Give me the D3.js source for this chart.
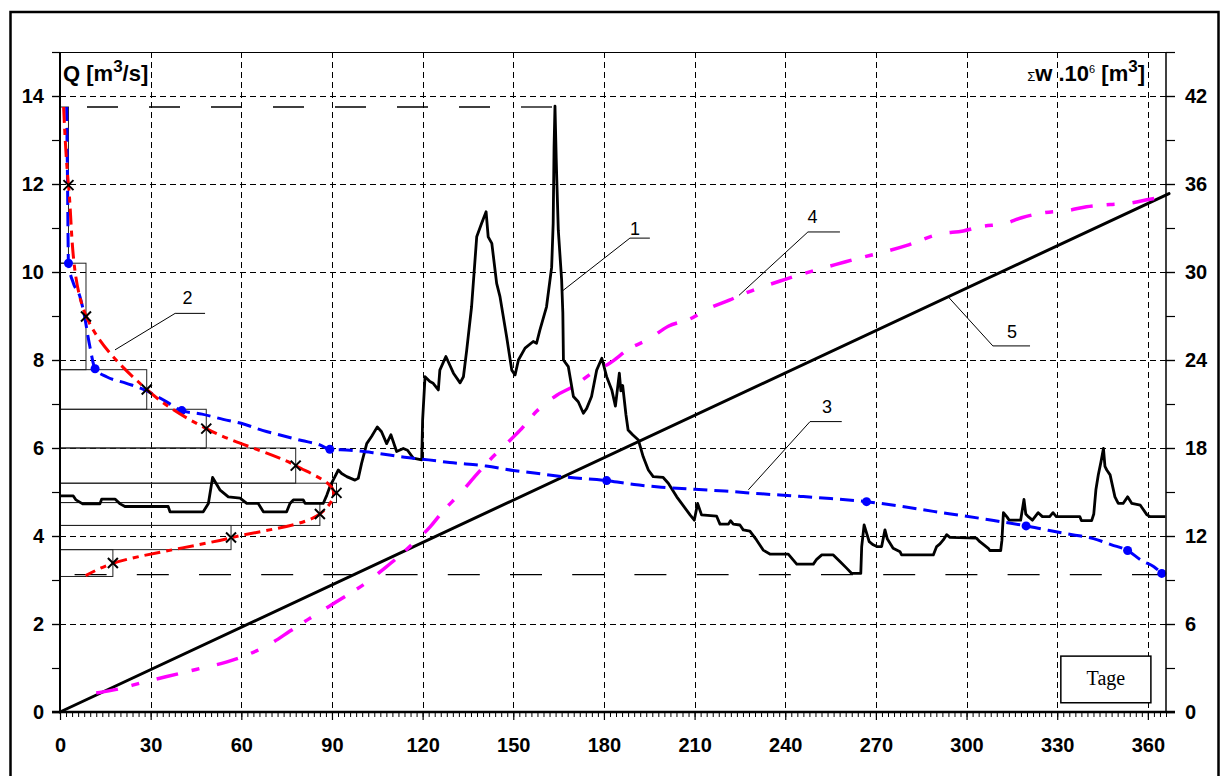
<!DOCTYPE html>
<html>
<head>
<meta charset="utf-8">
<script src="https://cdn.jsdelivr.net/npm/d3@7"></script>
<style>
  body { margin: 0; background: #fff; }
  text { font-family: "Liberation Sans", Arial, sans-serif; }
</style>
</head>
<body>
<svg id="chart" width="1223" height="776"></svg>
<script>
// ---- daily discharge hydrograph (curve 1): day, Q [m3/s]
const flowDays = [0,4.4,5.3,7.5,13.2,13.8,18.2,19.9,21.5,35.8,36.4,47.4,49.1,50.5,52.9,55.7,59.6,61.8,65.6,67.3,75,76.1,77.2,80.5,81.1,87.1,88.3,89.3,90.4,92.1,93.2,94.9,97.6,98.7,99.8,101.5,103.1,105,106.4,108.1,109.5,111.4,113.6,115,116.9,119.7,120,120.8,122.4,123.5,125.2,125.7,127.7,130.2,132.4,133.5,134.6,136.2,137.9,139.5,141,141.7,142.9,144.5,145.6,147.8,149.5,150.6,151.7,153.9,156.6,157.7,158.8,161,162.7,163.2,163.5,163.8,164.2,164.4,164.9,166,166.4,166.6,168.2,169.9,171.5,173.2,174.3,175.9,177.6,179.3,180.9,182.6,183.8,185.1,185.6,186.2,187.3,188,189.5,191.4,193,194.7,196.3,199.6,201.3,204.1,208.5,209.9,211,212.3,217.3,218.4,221.2,221.9,222.8,225,226.1,228.3,230.5,232.7,234.9,241,243.8,249.3,250.4,252.1,255.9,258.1,260.3,262,265,265.3,266.1,267,267.8,269.1,270.3,271.9,273,273.8,275.7,278,278.5,289,290.1,291.2,292.3,293.4,294.5,303.3,304.4,307.2,307.7,311.3,311.7,312.2,313.3,314.1,317.9,319,319.6,320.4,321.8,323.7,325.1,327.5,328.6,329.7,337.5,338,341.4,342.1,342.8,343.6,344.5,345.3,345.8,346.4,347.5,349.1,350.2,351.8,353.3,354.7,357.5,359.7,360.8,365.8];
const flowQ = [4.91,4.91,4.82,4.73,4.73,4.84,4.84,4.73,4.67,4.67,4.55,4.55,4.74,5.33,5.05,4.89,4.86,4.74,4.74,4.55,4.55,4.74,4.82,4.82,4.74,4.74,4.93,5.12,5.27,5.5,5.42,5.35,5.27,5.31,5.65,6.1,6.26,6.48,6.37,6.1,6.3,5.92,5.99,5.95,5.77,5.73,6.64,7.62,7.51,7.47,7.32,7.77,8.08,7.7,7.48,7.62,8.23,9.21,10.8,11.1,11.37,10.8,10.65,9.74,9.44,8.53,7.77,7.66,8.0,8.27,8.42,8.38,8.68,9.21,10.11,11.1,12.85,13.77,12.6,12.1,10.95,9.82,9.07,8.0,7.85,7.17,7.05,6.79,6.9,7.17,7.77,8.04,7.62,7.32,6.95,7.7,7.3,7.42,6.75,6.41,6.3,6.18,5.8,5.5,5.35,5.33,5.2,4.89,4.48,4.36,4.74,4.48,4.45,4.27,4.27,4.35,4.27,4.25,4.14,4.11,3.91,3.68,3.59,3.59,3.36,3.36,3.47,3.57,3.57,3.42,3.27,3.15,3.15,3.76,4.25,4.05,3.87,3.8,3.76,3.76,4.14,3.93,3.72,3.64,3.57,3.57,3.76,3.82,3.91,4.03,3.97,3.95,3.87,3.72,3.67,3.67,3.9,4.53,4.44,4.36,4.36,4.83,4.5,4.44,4.36,4.53,4.44,4.44,4.53,4.44,4.44,4.35,4.35,4.5,5.05,5.39,5.69,5.99,5.58,5.5,5.39,4.89,4.74,4.74,4.89,4.74,4.7,4.48,4.44,4.44];

// ---- discharge classes (histogram bars): lower / upper bound [m3/s], length [days]
const classLow  = [3.08, 3.69, 4.24, 4.76, 5.20, 6.00, 6.88, 7.78, 10.20];
const classHigh = [3.69, 4.24, 4.76, 5.20, 6.00, 6.88, 7.78, 10.20, 13.75];
const classDays = [17.5, 56.6, 86.0, 91.5, 78.0, 48.4, 28.7, 8.6, 2.8];

// ---- frequency polygon (curve 2)
const freqDays = [1.2, 2.8, 8.7, 28.7, 48.4, 78.0, 90.5, 86.0, 56.6, 17.5, 8.5];
const freqQ    = [13.75, 11.98, 8.99, 7.33, 6.44, 5.60, 5.02, 4.50, 3.96, 3.38, 3.10];

// ---- duration curve (curve 3)
const durDays = [2.2,2.5,2.8,4.4,6.6,7.7,9.9,11.6,15.4,22,28.7,35,40.3,47,54,61,67,72.5,80,86,89.3,96,104,114,122,129,141,150,157,169,180.9,190,199,210,220,232,245,255,266.9,278,289,300,309,319.7,327,335,342,348,353.3,358,362,364.6];
const durQ    = [13.75,12.0,10.2,9.75,9.44,9.14,8.3,7.8,7.62,7.47,7.3,7.06,6.85,6.77,6.65,6.54,6.40,6.30,6.17,6.07,5.97,5.95,5.89,5.79,5.73,5.67,5.59,5.49,5.43,5.33,5.26,5.17,5.11,5.06,5.02,4.96,4.90,4.85,4.78,4.68,4.56,4.45,4.35,4.23,4.13,4.03,3.94,3.80,3.67,3.44,3.30,3.15];
const durMarkDays = [2.8, 11.6, 40.3, 89.3, 180.9, 266.9, 319.7, 353.3, 364.6];
const durMarkQ    = [10.2, 7.8, 6.85, 5.97, 5.26, 4.78, 4.23, 3.67, 3.15];

// ---- cumulative volume (curve 4), Σw·10^6 [m3]
const volDays = [12,20,27,35,45,55,62,70,76,82,89,96,102.6,106,111.4,116.9,122.4,126.8,132.4,137.9,142.3,147.8,152.2,157.7,164.4,169.9,176,182,188.6,194.7,201.3,208.5,214.5,221.7,225,240,260,280,291.2,298.9,305,312.7,318.2,326,333.7,339.7,347.5,354,360.7,364.6];
const volW    = [1.3,1.6,2.0,2.4,2.9,3.4,3.9,4.7,5.5,6.3,7.2,8.1,9.0,9.57,10.48,11.5,12.6,13.7,14.9,16.2,17.2,18.3,19.2,20.5,21.6,22.2,23.1,23.8,24.8,25.4,26.3,26.8,27.5,28.1,28.4,29.5,30.7,31.8,32.6,32.8,33.1,33.3,33.7,34.05,34.2,34.45,34.6,34.7,34.96,35.1];

// ---- mean-flow sum line (curve 5)
const sumLineDays = [0, 367];
const sumLineW    = [0, 35.35];

// ---- extreme discharges
const qMax = 13.75, qMaxDay = 163.8;
const qMin = 3.12;

// ---- axes
const dayTicks = d3.range(0, 361, 30);
const qTicks = d3.range(0, 15, 2);
const wTicks = d3.range(0, 43, 6);

const svg = d3.select("#chart");
const x  = d3.scaleLinear().domain([0, 366]).range([60, 1166]);
const yQ = d3.scaleLinear().domain([0, 15]).range([712, 52]);
const yW = d3.scaleLinear().domain([0, 45]).range([712, 52]);

// outer frame
svg.append("rect").attr("x", 10.5).attr("y", 12).attr("width", 1208).attr("height", 800)
  .attr("fill", "none").attr("stroke", "#000").attr("stroke-width", 2.5);

// dashed grid
const grid = svg.append("g").attr("stroke", "#000").attr("stroke-width", 1)
  .attr("stroke-dasharray", "6,4").attr("fill", "none");
grid.selectAll("line.v").data(dayTicks.filter(d => d > 0)).join("line")
  .attr("x1", d => Math.round(x(d)) + 0.5).attr("x2", d => Math.round(x(d)) + 0.5)
  .attr("y1", yQ(15)).attr("y2", yQ(0));
grid.selectAll("line.h").data(qTicks.filter(d => d > 0)).join("line")
  .attr("y1", d => Math.round(yQ(d)) + 0.5).attr("y2", d => Math.round(yQ(d)) + 0.5)
  .attr("x1", x(0)).attr("x2", x(366));

// max / min discharge reference lines
svg.append("line").attr("x1", x(0)).attr("x2", x(qMaxDay))
  .attr("y1", yQ(qMax)).attr("y2", yQ(qMax))
  .attr("stroke", "#000").attr("stroke-width", 1.3)
  .attr("stroke-dasharray", "31,31").attr("stroke-dashoffset", 35);
svg.append("line").attr("x1", x(0)).attr("x2", x(366))
  .attr("y1", yQ(qMin)).attr("y2", yQ(qMin))
  .attr("stroke", "#000").attr("stroke-width", 1.3)
  .attr("stroke-dasharray", "32,30.2").attr("stroke-dashoffset", 47.6);

// class bars
svg.append("g").selectAll("rect").data(classDays).join("rect")
  .attr("x", x(0))
  .attr("y", (d, i) => yQ(classHigh[i]))
  .attr("width", d => x(d) - x(0))
  .attr("height", (d, i) => yQ(classLow[i]) - yQ(classHigh[i]))
  .attr("fill", "none").attr("stroke", "#222").attr("stroke-width", 1);

// curve 5: sum line
svg.append("path")
  .datum(sumLineDays.map((d, i) => [d, sumLineW[i]]))
  .attr("d", d3.line().x(d => x(d[0])).y(d => yW(d[1])))
  .attr("fill", "none").attr("stroke", "#000").attr("stroke-width", 3)
  .attr("stroke-linecap", "round");

// curve 4: cumulative volume
svg.append("path")
  .datum(volDays.map((d, i) => [d, volW[i]]))
  .attr("d", d3.line().curve(d3.curveMonotoneX).x(d => x(d[0])).y(d => yW(d[1])))
  .attr("fill", "none").attr("stroke", "#ff00ff").attr("stroke-width", 3.5)
  .attr("stroke-dasharray", "22,14,8,18");

// curve 1: hydrograph
svg.append("path")
  .datum(flowDays.map((d, i) => [d, flowQ[i]]))
  .attr("d", d3.line().x(d => x(d[0])).y(d => yQ(d[1])))
  .attr("fill", "none").attr("stroke", "#000").attr("stroke-width", 2.8)
  .attr("stroke-linejoin", "round");

// curve 3: duration curve
svg.append("path")
  .datum(durDays.map((d, i) => [d, durQ[i]]))
  .attr("d", d3.line().curve(d3.curveMonotoneX).x(d => x(d[0])).y(d => yQ(d[1])))
  .attr("fill", "none").attr("stroke", "#0000ff").attr("stroke-width", 3)
  .attr("stroke-dasharray", "14,7");
svg.append("g").selectAll("circle").data(durMarkDays).join("circle")
  .attr("cx", d => x(d)).attr("cy", (d, i) => yQ(durMarkQ[i])).attr("r", 4.5)
  .attr("fill", "#0000ff");

// curve 2: frequency polygon
svg.append("path")
  .datum(freqDays.map((d, i) => [d, freqQ[i]]))
  .attr("d", d3.line().curve(d3.curveCatmullRom.alpha(0.5)).x(d => x(d[0])).y(d => yQ(d[1])))
  .attr("fill", "none").attr("stroke", "#ff0000").attr("stroke-width", 3)
  .attr("stroke-dasharray", "16,6,6,6");
svg.append("g").selectAll("path").data(classDays).join("path")
  .attr("transform", (d, i) => `translate(${x(d)},${yQ((classLow[i] + classHigh[i]) / 2)})`)
  .attr("d", "M-5,-5L5,5M-5,5L5,-5")
  .attr("stroke", "#000").attr("stroke-width", 2).attr("fill", "none");

// curve labels with leader lines (positions in day / Q units)
const leaders = [
  { t: "1", a: [165.9, 9.55], e: [188.6, 10.77], f: [195.2, 10.77], l: [190.3, 10.84] },
  { t: "2", a: [18.2, 8.23],  e: [38.1, 9.06],   f: [48.0, 9.06],   l: [42.2, 9.27] },
  { t: "3", a: [227.8, 5.05], e: [248.2, 6.60],  f: [258.7, 6.60],  l: [253.8, 6.80] },
  { t: "4", a: [224.7, 9.47], e: [247.5, 10.91], f: [258.1, 10.91], l: [249.0, 11.12] },
  { t: "5", a: [294.0, 9.43], e: [308.7, 8.32],  f: [321.0, 8.32],  l: [315.0, 8.50] }
];
const lg = svg.append("g");
lg.selectAll("polyline").data(leaders).join("polyline")
  .attr("points", d => [d.a, d.e, d.f].map(p => `${x(p[0])},${yQ(p[1])}`).join(" "))
  .attr("fill", "none").attr("stroke", "#000").attr("stroke-width", 1);
lg.selectAll("text").data(leaders).join("text")
  .attr("x", d => x(d.l[0])).attr("y", d => yQ(d.l[1]))
  .attr("text-anchor", "middle").attr("font-size", 18).text(d => d.t);

// plot border lines
svg.append("line").attr("x1", x(0)).attr("x2", x(366)).attr("y1", 52.5).attr("y2", 52.5)
  .attr("stroke", "#000").attr("stroke-width", 1);
svg.append("line").attr("x1", x(366)).attr("x2", x(366)).attr("y1", 52).attr("y2", 712)
  .attr("stroke", "#000").attr("stroke-width", 1.5);
svg.append("line").attr("x1", x(0)).attr("x2", x(0)).attr("y1", 52).attr("y2", 713)
  .attr("stroke", "#000").attr("stroke-width", 2);
svg.append("line").attr("x1", x(0) - 8).attr("x2", x(366) + 9).attr("y1", 712).attr("y2", 712)
  .attr("stroke", "#000").attr("stroke-width", 2.5);

function styleAxis(g) {
  g.select(".domain").remove();
  g.selectAll("line").attr("stroke", "#000").attr("stroke-width", 1.2);
  g.selectAll("text").attr("font-size", 20).attr("font-weight", "bold").attr("fill", "#000")
    .style("font-family", '"Liberation Sans", Arial, sans-serif');
}

// left axis Q
svg.append("g").attr("transform", `translate(${x(0)},0)`)
  .call(d3.axisLeft(yQ).tickValues(d3.range(0, 16, 1)).tickSize(8).tickFormat(""))
  .call(styleAxis);
svg.append("g").attr("transform", `translate(${x(0)},0)`)
  .call(d3.axisLeft(yQ).tickValues(qTicks).tickSize(8).tickPadding(8).tickFormat(d3.format("d")))
  .call(styleAxis);

// right axis Σw
svg.append("g").attr("transform", `translate(${x(366)},0)`)
  .call(d3.axisRight(yW).tickValues(d3.range(0, 46, 3)).tickSize(9).tickFormat(""))
  .call(styleAxis);
svg.append("g").attr("transform", `translate(${x(366)},0)`)
  .call(d3.axisRight(yW).tickValues(wTicks).tickSize(9).tickPadding(10).tickFormat(d3.format("d")))
  .call(styleAxis);

// bottom axis days
svg.append("g").attr("transform", "translate(0,712)")
  .call(d3.axisBottom(x).tickValues(d3.range(0, 367, 2)).tickSize(5).tickFormat(""))
  .call(styleAxis)
  .call(g => g.selectAll("line").attr("stroke-width", 1));
svg.append("g").attr("transform", "translate(0,712)")
  .call(d3.axisBottom(x).tickValues(dayTicks).tickSize(8).tickPadding(18).tickFormat(d3.format("d")))
  .call(styleAxis);

// axis titles
const tQ = svg.append("text").attr("x", 63).attr("y", 81)
  .attr("font-size", 22).attr("font-weight", "bold");
tQ.append("tspan").text("Q [m");
tQ.append("tspan").attr("dy", -9).attr("font-size", 17).text("3");
tQ.append("tspan").attr("dy", 9).text("/s]");

const tW = svg.append("text").attr("x", 1145).attr("y", 81).attr("text-anchor", "end")
  .attr("font-size", 22).attr("font-weight", "bold");
tW.append("tspan").attr("font-weight", "normal").attr("font-size", 13).text("\u03A3");
tW.append("tspan").text("w .10");
tW.append("tspan").attr("dy", -8).attr("font-size", 11).attr("font-weight", "normal").text("6");
tW.append("tspan").attr("dy", 8).text(" [m");
tW.append("tspan").attr("dy", -9).attr("font-size", 17).text("3");
tW.append("tspan").attr("dy", 9).text("]");

// time unit box
svg.append("rect").attr("x", x(331.2)).attr("y", yQ(1.27))
  .attr("width", x(361) - x(331.2)).attr("height", yQ(0.21) - yQ(1.27))
  .attr("fill", "#fff").attr("stroke", "#000").attr("stroke-width", 1.5);
svg.append("text").attr("x", x(346.1)).attr("y", yQ(0.61))
  .attr("text-anchor", "middle").attr("font-size", 20)
  .style("font-family", '"Liberation Serif", "Times New Roman", serif').text("Tage");
</script>
</body>
</html>
